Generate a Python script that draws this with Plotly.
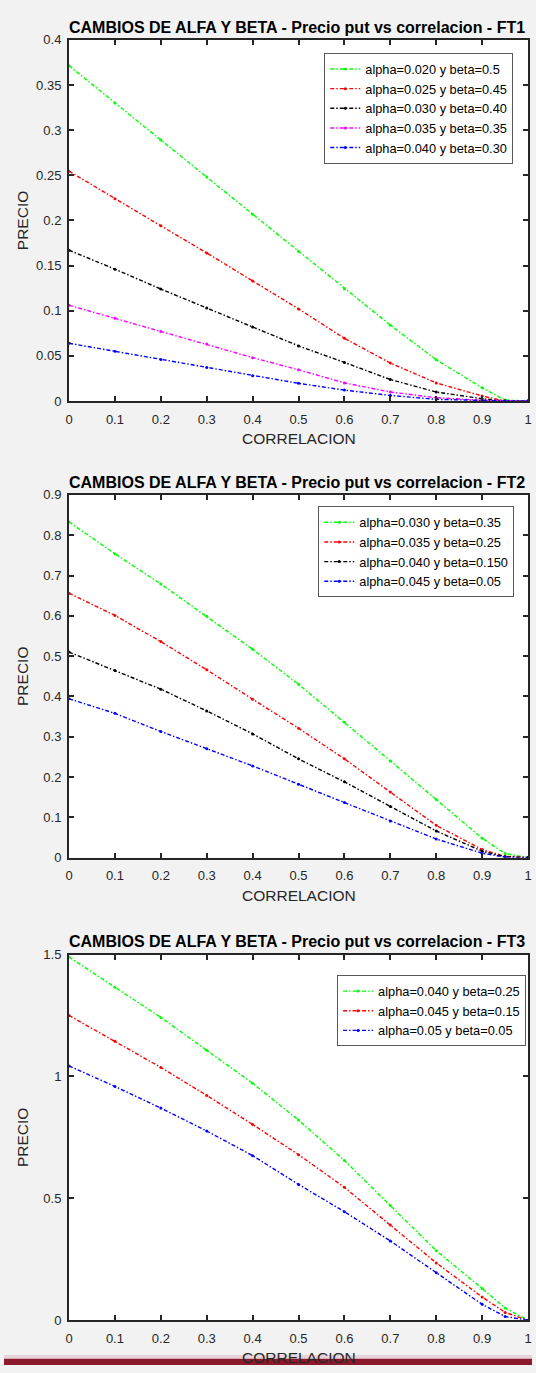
import plotly.graph_objects as go

W, H = 536, 1373

correlacion = [0, 0.1, 0.2, 0.3, 0.4, 0.5, 0.6, 0.7, 0.8, 0.9, 0.95, 1.0]

# FT1
ft1_names = ["alpha=0.020 y beta=0.5", "alpha=0.025 y beta=0.45", "alpha=0.030 y beta=0.40",
             "alpha=0.035 y beta=0.35", "alpha=0.040 y beta=0.30"]
ft1_green = [0.3715, 0.330, 0.289, 0.248, 0.207, 0.166, 0.124, 0.084, 0.0456, 0.0146, 0.001, 0]
ft1_red = [0.2546, 0.224, 0.194, 0.164, 0.133, 0.102, 0.0694, 0.042, 0.020, 0.0055, 0.0, 0]
ft1_black = [0.167, 0.146, 0.124, 0.103, 0.082, 0.061, 0.0427, 0.0237, 0.0099, 0.0025, 0.0, 0]
ft1_magenta = [0.106, 0.0916, 0.077, 0.063, 0.048, 0.0345, 0.020, 0.0099, 0.0036, 0.0007, 0, 0]
ft1_blue = [0.0639, 0.055, 0.046, 0.037, 0.028, 0.0195, 0.012, 0.0061, 0.0018, 0.0002, 0, 0]

# FT2
ft2_names = ["alpha=0.030 y beta=0.35", "alpha=0.035 y beta=0.25", "alpha=0.040 y beta=0.150",
             "alpha=0.045 y beta=0.05"]
ft2_green = [0.833, 0.754, 0.679, 0.599, 0.517, 0.430, 0.336, 0.240, 0.144, 0.048, 0.01, 0]
ft2_red = [0.656, 0.601, 0.536, 0.466, 0.393, 0.321, 0.245, 0.163, 0.080, 0.020, 0.003, 0]
ft2_black = [0.510, 0.464, 0.418, 0.364, 0.307, 0.245, 0.188, 0.127, 0.066, 0.016, 0.002, 0]
ft2_blue = [0.394, 0.358, 0.313, 0.270, 0.2275, 0.182, 0.137, 0.091, 0.046, 0.011, 0.001, 0]

# FT3
ft3_names = ["alpha=0.040 y beta=0.25", "alpha=0.045 y beta=0.15", "alpha=0.05 y beta=0.05"]
ft3_green = [1.49, 1.366, 1.242, 1.107, 0.972, 0.821, 0.655, 0.47, 0.285, 0.13, 0.05, 0]
ft3_red = [1.25, 1.144, 1.037, 0.922, 0.803, 0.679, 0.545, 0.39, 0.235, 0.095, 0.032, 0]
ft3_blue = [1.043, 0.959, 0.870, 0.776, 0.675, 0.557, 0.445, 0.325, 0.195, 0.065, 0.015, 0]

x_ticks = [0, 0.1, 0.2, 0.3, 0.4, 0.5, 0.6, 0.7, 0.8, 0.9, 1]
x_ticktext = ["0", "0.1", "0.2", "0.3", "0.4", "0.5", "0.6", "0.7", "0.8", "0.9", "1"]
y1_ticks = [0, 0.05, 0.1, 0.15, 0.2, 0.25, 0.3, 0.35, 0.4]
y1_text = ["0", "0.05", "0.1", "0.15", "0.2", "0.25", "0.3", "0.35", "0.4"]
y2_ticks = [0, 0.1, 0.2, 0.3, 0.4, 0.5, 0.6, 0.7, 0.8, 0.9]
y2_text = ["0", "0.1", "0.2", "0.3", "0.4", "0.5", "0.6", "0.7", "0.8", "0.9"]
y3_ticks = [0, 0.5, 1, 1.5]
y3_text = ["0", "0.5", "1", "1.5"]

titles = ["CAMBIOS DE ALFA Y BETA - Precio put vs correlacion - FT1",
          "CAMBIOS DE ALFA Y BETA - Precio put vs correlacion - FT2",
          "CAMBIOS DE ALFA Y BETA - Precio put vs correlacion - FT3"]

GREEN, RED, BLACK, MAGENTA, BLUE = "#00ff00", "#ff0000", "#000000", "#ff00ff", "#0000ff"
FONT = "Liberation Sans, Arial, sans-serif"
AXC = "#262626"

fig = go.Figure()

def add(series, names, colors, xa, ya, legend):
    for y, n, c in zip(series, names, colors):
        fig.add_trace(go.Scatter(
            x=correlacion, y=y, name=n, mode="lines+markers",
            line=dict(color=c, width=1.4, dash="4px,2px,1.5px,2px"),
            marker=dict(color=c, size=3),
            xaxis=xa, yaxis=ya, legend=legend))

add([ft1_green, ft1_red, ft1_black, ft1_magenta, ft1_blue], ft1_names,
    [GREEN, RED, BLACK, MAGENTA, BLUE], "x", "y", "legend")
add([ft2_green, ft2_red, ft2_black, ft2_blue], ft2_names,
    [GREEN, RED, BLACK, BLUE], "x2", "y2", "legend2")
add([ft3_green, ft3_red, ft3_blue], ft3_names,
    [GREEN, RED, BLUE], "x3", "y3", "legend3")

xdom = [66 / W, 532 / W]
def ydom(top, bottom):
    return [1 - bottom / H, 1 - top / H]

panels = [(33.3, 398.3, [0, 0.4], y1_ticks, y1_text),
          (493.3, 860, [0, 0.9], y2_ticks, y2_text),
          (958, 1327.7, [0, 1.5], y3_ticks, y3_text)]

common = dict(showline=True, linecolor=AXC, linewidth=2, mirror="ticks",
              ticks="inside", ticklen=5, tickwidth=1.5, tickcolor=AXC,
              showgrid=False, zeroline=False,
              tickfont=dict(family=FONT, size=13, color=AXC))

layout = {}
annotations = []
legends = {}
legend_pos = [(517, 46.7), (518, 505), (530, 979)]
for i, (top, bottom, yr, yt, ytt) in enumerate(panels):
    sfx = "" if i == 0 else str(i + 1)
    layout["xaxis" + sfx] = dict(domain=xdom, range=[0, 1], tickvals=x_ticks, ticktext=x_ticktext,
                                 anchor="y" + sfx, ticklabelstandoff=5, **common)
    layout["yaxis" + sfx] = dict(domain=ydom(top, bottom), range=yr, tickvals=yt, ticktext=ytt,
                                 anchor="x" + sfx, ticklabelstandoff=3, **common)
    annotations.append(dict(text="<b>" + titles[i] + "</b>", x=297 / W, y=1 - (top - 13) / H,
                            xref="paper", yref="paper", showarrow=False,
                            xanchor="center", yanchor="middle",
                            font=dict(family=FONT, size=16, color="#000000")))
    annotations.append(dict(text="CORRELACION", x=299 / W, y=1 - (bottom + 38) / H,
                            xref="paper", yref="paper", showarrow=False,
                            xanchor="center", yanchor="middle",
                            font=dict(family=FONT, size=15.5, color=AXC)))
    annotations.append(dict(text="PRECIO", x=19 / W, y=1 - ((top + bottom) / 2) / H,
                            xref="paper", yref="paper", showarrow=False, textangle=-90,
                            xanchor="center", yanchor="middle",
                            font=dict(family=FONT, size=15.5, color=AXC)))
    lx, ly = legend_pos[i]
    legends["legend" + sfx] = dict(x=lx / W, y=1 - ly / H, xanchor="right", yanchor="top",
                                   xref="paper", yref="paper",
                                   bgcolor="#ffffff", bordercolor="#595959", borderwidth=1,
                                   font=dict(family=FONT, size=12.8, color="#000000"),
                                   tracegroupgap=0, itemwidth=30)

fig.update_layout(
    width=W, height=H, margin=dict(l=0, r=0, t=0, b=0),
    paper_bgcolor="#f2f2f2", plot_bgcolor="#ffffff",
    showlegend=True, annotations=annotations,
    shapes=[dict(type="rect", xref="paper", yref="paper", x0=0, x1=1, y0=0, y1=6.5 / H,
                 fillcolor="#8c1a2c", line=dict(width=0), layer="below"),
            dict(type="rect", xref="paper", yref="paper", x0=0, x1=1, y0=6.5 / H, y1=10 / H,
                 fillcolor="#e8d4d8", line=dict(width=0), layer="below")],
    **layout, **legends,
)

fig.write_html("out.html")
